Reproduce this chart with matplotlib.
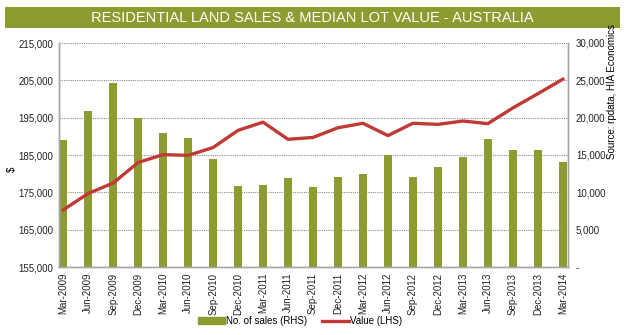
import matplotlib
matplotlib.use("Agg")
import matplotlib.pyplot as plt
from matplotlib.patches import Rectangle
from matplotlib.lines import Line2D
import numpy as np

quarters = ["Mar-2009", "Jun-2009", "Sep-2009", "Dec-2009", "Mar-2010", "Jun-2010",
            "Sep-2010", "Dec-2010", "Mar-2011", "Jun-2011", "Sep-2011", "Dec-2011",
            "Mar-2012", "Jun-2012", "Sep-2012", "Dec-2012", "Mar-2013", "Jun-2013",
            "Sep-2013", "Dec-2013", "Mar-2014"]

sales = [17000, 20900, 24700, 19900, 17900, 17300, 14400, 10900, 11000, 11900,
         10700, 12000, 12500, 15000, 12000, 13400, 14700, 17100, 15700, 15700, 14000]

value = [170300, 174700, 177500, 183000, 185100, 184900, 187000, 191600, 193800,
         189200, 189700, 192300, 193500, 190200, 193500, 193200, 194100, 193400,
         197600, 201400, 205300]

lhs_ticks = [155000, 165000, 175000, 185000, 195000, 205000, 215000]
rhs_ticks = [0, 5000, 10000, 15000, 20000, 25000, 30000]

BAR_COLOR = "#8D9B30"
LINE_COLOR = "#BF3A34"
GRID_COLOR = "#8C8C8C"
AXIS_COLOR = "#A6A6A6"

plt.rcParams["font.family"] = ["Liberation Sans", "DejaVu Sans"]

fig = plt.figure(figsize=(6.25, 3.35), dpi=100)
W, H = 625, 335
left, right, top, bottom = 59, 567.5, 43, 267
ax_val = fig.add_axes([left / W, 1 - bottom / H, (right - left) / W, (bottom - top) / H])
ax_sales = ax_val.twinx()

x = np.arange(len(quarters))

# bars on the right-hand axis, drawn beneath the line
ax_val.set_zorder(2)
ax_val.patch.set_visible(False)
ax_sales.set_zorder(1)
ax_sales.bar(x, sales, width=0.33, color=BAR_COLOR, zorder=2)
ax_sales.set_ylim(0, 30000)
ax_sales.set_yticks(rhs_ticks)
ax_sales.set_yticklabels(["-" if t == 0 else f"{t:,}" for t in rhs_ticks], fontsize=7)

ax_val.plot(x, value, color=LINE_COLOR, lw=2.4, solid_joinstyle="round", zorder=3)
ax_val.set_ylim(155000, 215000)
ax_val.set_yticks(lhs_ticks)
ax_val.set_yticklabels([f"{t:,}" for t in lhs_ticks], fontsize=7)
ax_val.set_xlim(-0.17, 20.19)
ax_val.set_xticks(x)
ax_val.set_xticklabels(quarters, rotation=90, fontsize=7)

# dotted horizontal gridlines
for t in lhs_ticks[1:]:
    ax_sales.axhline((t - 155000) / 2, color=GRID_COLOR, lw=0.8, ls=(0, (1, 1)), zorder=0)

for a in (ax_val, ax_sales):
    a.tick_params(length=0, pad=4, colors="#222222")
    a.spines["top"].set_visible(False)
    for s in ("left", "right", "bottom"):
        a.spines[s].set_color(AXIS_COLOR)
        a.spines[s].set_linewidth(1)
ax_sales.tick_params(axis="y", pad=6)

ax_val.set_ylabel("$", fontsize=7, rotation=90)
ax_val.yaxis.set_label_coords((17 - left) / (right - left), (bottom - 169) / (bottom - top))

fig.text(612 / W, 1 - 92 / H, "Source: rpdata, HIA Economics", rotation=90,
         fontsize=7, ha="center", va="center")

# title banner
fig.patches.append(Rectangle((5 / W, 1 - 28 / H), 615 / W, 21 / H,
                             transform=fig.transFigure, facecolor="#8D9B30",
                             edgecolor="none"))
fig.text(312 / W, 1 - 17.5 / H, "RESIDENTIAL LAND SALES & MEDIAN LOT VALUE - AUSTRALIA",
         color="white", fontsize=10.5, ha="center", va="center")

handles = [Rectangle((0, 0), 1, 1, color=BAR_COLOR),
           Line2D([0], [0], color=LINE_COLOR, lw=2.4)]
fig.legend(handles, ["No. of sales (RHS)", "Value (LHS)"], loc="center",
           bbox_to_anchor=(300 / W, 1 - 321 / H), ncol=2, frameon=False,
           fontsize=7, handlelength=2.8, handleheight=0.6, handletextpad=0.1,
           columnspacing=1.5)

fig.savefig("out.png", dpi=100)
